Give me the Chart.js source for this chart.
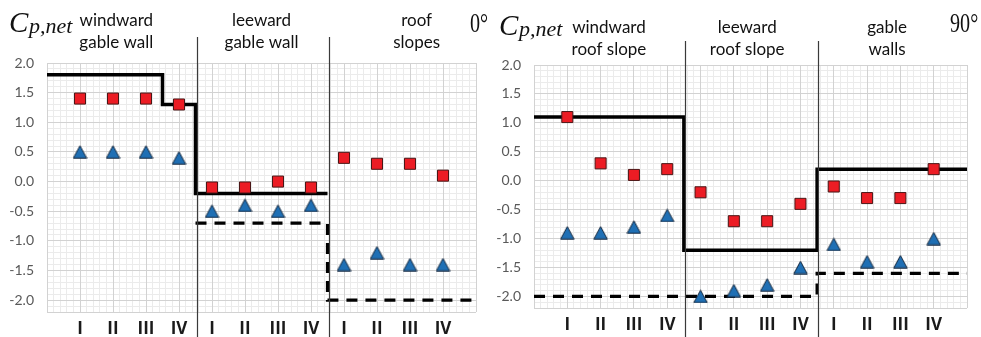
<!DOCTYPE html>
<html>
<head>
<meta charset="utf-8">
<script src="https://cdn.jsdelivr.net/npm/chart.js@4.4.1/dist/chart.umd.min.js"></script>
<style>
  html, body { margin: 0; padding: 0; background: #fff; }
  #wrap { position: relative; width: 981px; height: 337px; overflow: hidden; }
  canvas { position: absolute; top: 0; }
</style>
</head>
<body>
<div id="wrap">
  <canvas id="left" width="490" height="337" style="left:0"></canvas>
  <canvas id="right" width="491" height="337" style="left:490px"></canvas>
</div>
<script>
// ---- data ----
const catLabels = ["I", "II", "III", "IV", "I", "II", "III", "IV", "I", "II", "III", "IV"];
const catX = [1, 2, 3, 4, 5, 6, 7, 8, 9, 10, 11, 12];
const yTickValues = [-2.0, -1.5, -1.0, -0.5, 0.0, 0.5, 1.0, 1.5, 2.0];
const dividers = [4.5, 8.5];

// 0 deg
const redLeft = [1.4, 1.4, 1.4, 1.3, -0.1, -0.1, 0.0, -0.1, 0.4, 0.3, 0.3, 0.1];
const blueLeft = [0.5, 0.5, 0.5, 0.4, -0.5, -0.4, -0.5, -0.4, -1.4, -1.2, -1.4, -1.4];
const solidLeftEdges = [0, 3.5, 4.5, 8.5];
const solidLeftLevels = [1.8, 1.3, -0.2];
const dashLeftEdges = [4.5, 8.5, 13];
const dashLeftLevels = [-0.7, -2.0];
const headersLeft = [["windward", "gable wall"], ["leeward", "gable wall"], ["roof", "slopes"]];
const headersLeftAt = [2.1, 6.5, 11.2];

// 90 deg
const redRight = [1.1, 0.3, 0.1, 0.2, -0.2, -0.7, -0.7, -0.4, -0.1, -0.3, -0.3, 0.2];
const blueRight = [-0.9, -0.9, -0.8, -0.6, -2.0, -1.9, -1.8, -1.5, -1.1, -1.4, -1.4, -1.0];
const solidRightEdges = [0, 4.5, 8.5, 13];
const solidRightLevels = [1.1, -1.2, 0.2];
const dashRightEdges = [0, 8.5, 13];
const dashRightLevels = [-2.0, -1.6];
const headersRight = [["windward", "roof slope"], ["leeward", "roof slope"], ["gable", "walls"]];
const headersRightAt = [2.25, 6.4, 10.6];

const X_MIN = 0, X_MAX = 13, Y_MIN = -2.2, Y_MAX = 2.0;

// ---- helpers ----
function steps(edges, levels) {
  const pts = [];
  levels.forEach((v, i) => {
    pts.push({ x: edges[i], y: v });
    pts.push({ x: edges[i + 1], y: v });
  });
  return pts;
}

function points(values) {
  return values.map((v, i) => ({ x: catX[i], y: v }));
}

function range(from, to, step) {
  const out = [];
  const n = Math.round((to - from) / step);
  for (let i = 0; i <= n; i++) out.push(Math.round((from + i * step) * 100) / 100);
  return out;
}

function triangleMarker() {
  const c = document.createElement("canvas");
  c.width = 15;
  c.height = 14;
  const g = c.getContext("2d");
  g.beginPath();
  g.moveTo(7.5, 0.8);
  g.lineTo(14.2, 13.2);
  g.lineTo(0.8, 13.2);
  g.closePath();
  g.fillStyle = "#1f6fb4";
  g.fill();
  g.lineWidth = 1;
  g.strokeStyle = "#16283d";
  g.stroke();
  return c;
}
const tri = triangleMarker();

function overlay(cfg) {
  return {
    id: "overlay",
    afterDraw(chart) {
      const ctx = chart.ctx;
      const xs = chart.scales.x;
      ctx.save();
      // section dividers
      ctx.strokeStyle = "#3a3a3a";
      ctx.lineWidth = 1.2;
      dividers.forEach((d) => {
        const px = Math.round(xs.getPixelForValue(d)) + 1.5;
        ctx.beginPath();
        ctx.moveTo(px, cfg.dividerTop);
        ctx.lineTo(px, chart.height);
        ctx.stroke();
      });
      // section headers
      ctx.fillStyle = "#111";
      ctx.font = "17px Lato";
      ctx.textAlign = "center";
      ctx.textBaseline = "middle";
      cfg.headers.forEach((lines, i) => {
        const px = xs.getPixelForValue(cfg.headersAt[i]);
        lines.forEach((t, j) => ctx.fillText(t, px, cfg.headerY + j * 22));
      });
      // C p,net
      ctx.textAlign = "left";
      ctx.textBaseline = "alphabetic";
      ctx.font = "italic 29px 'Liberation Serif'";
      ctx.fillText("C", 9, cfg.titleBase);
      ctx.font = "italic 22px 'Liberation Serif'";
      ctx.fillText("p,net", 29, cfg.titleBase + 1);
      // angle
      ctx.translate(cfg.angleX, 32);
      ctx.scale(0.72, 1);
      ctx.font = "28px 'Liberation Serif'";
      ctx.fillText(cfg.angle, 0, 0);
      ctx.restore();
    },
  };
}

function makeChart(id, d) {
  const ctx = document.getElementById(id);
  return new Chart(ctx, {
    type: "scatter",
    data: {
      datasets: [
        {
          data: points(d.red),
          pointStyle: "rect",
          pointRadius: 7.8,
          backgroundColor: "#ec1c24",
          borderColor: "#4a1616",
          borderWidth: 1,
        },
        {
          data: points(d.blue),
          pointStyle: tri,
          pointRadius: 7,
        },
        {
          data: steps(d.solidEdges, d.solidLevels),
          showLine: true,
          borderColor: "#000",
          borderWidth: 3.5,
          pointRadius: 0,
          borderJoinStyle: "miter",
        },
        {
          data: steps(d.dashEdges, d.dashLevels),
          showLine: true,
          borderColor: "#000",
          borderWidth: 3.2,
          borderDash: [11, 8],
          pointRadius: 0,
        },
      ],
    },
    options: {
      responsive: false,
      animation: false,
      events: [],
      layout: { padding: { left: 0, right: d.padRight, top: d.padTop, bottom: 0 } },
      plugins: { legend: { display: false }, tooltip: { enabled: false } },
      scales: {
        xm: {
          type: "linear",
          position: "bottom",
          min: X_MIN,
          max: X_MAX,
          afterBuildTicks: (s) => { s.ticks = range(X_MIN, X_MAX, 0.2).map((v) => ({ value: v })); },
          grid: { color: "#ebebeb", drawTicks: false },
          border: { display: false },
          ticks: { display: false },
        },
        ym: {
          type: "linear",
          position: "left",
          min: Y_MIN,
          max: Y_MAX,
          afterBuildTicks: (s) => { s.ticks = range(Y_MIN, Y_MAX, 0.1).map((v) => ({ value: v })); },
          grid: { color: "#ebebeb", drawTicks: false },
          border: { display: false },
          ticks: { display: false },
        },
        x: {
          type: "linear",
          position: "bottom",
          min: X_MIN,
          max: X_MAX,
          afterBuildTicks: (s) => { s.ticks = range(X_MIN, X_MAX, 1).map((v) => ({ value: v })); },
          afterFit: (s) => { s.height = d.xHeight; },
          grid: { color: "#d2d2d2", drawTicks: false },
          border: { display: false },
          ticks: {
            autoSkip: false,
            maxRotation: 0,
            padding: 7,
            color: "#1a1a1a",
            font: { family: "'Open Sans'", size: 17, weight: "bold" },
            callback: (v) => catLabels[catX.indexOf(v)] || "",
          },
        },
        y: {
          type: "linear",
          position: "left",
          min: Y_MIN,
          max: Y_MAX,
          afterBuildTicks: (s) => { s.ticks = [Y_MIN, ...yTickValues].map((v) => ({ value: v })); },
          afterFit: (s) => { s.width = d.yWidth; },
          grid: { color: "#d2d2d2", drawTicks: false },
          border: { display: false },
          ticks: {
            padding: 13,
            color: "#595959",
            font: { family: "Lato", size: 14 },
            callback: (v) => (yTickValues.includes(v) ? v.toFixed(1) : ""),
          },
        },
      },
    },
    plugins: [overlay(d.overlay)],
  });
}

makeChart("left", {
  red: redLeft,
  blue: blueLeft,
  solidEdges: solidLeftEdges,
  solidLevels: solidLeftLevels,
  dashEdges: dashLeftEdges,
  dashLevels: dashLeftLevels,
  padRight: 14,
  padTop: 63,
  xHeight: 25,
  yWidth: 47,
  overlay: {
    headers: headersLeft,
    headersAt: headersLeftAt,
    headerY: 21,
    dividerTop: 37,
    titleBase: 32,
    angleX: 470,
    angle: "0°",
  },
});

makeChart("right", {
  red: redRight,
  blue: blueRight,
  solidEdges: solidRightEdges,
  solidLevels: solidRightLevels,
  dashEdges: dashRightEdges,
  dashLevels: dashRightLevels,
  padRight: 14,
  padTop: 65,
  xHeight: 29,
  yWidth: 44,
  overlay: {
    headers: headersRight,
    headersAt: headersRightAt,
    headerY: 28,
    dividerTop: 41,
    titleBase: 35,
    angleX: 460,
    angle: "90°",
  },
});
</script>
</body>
</html>
